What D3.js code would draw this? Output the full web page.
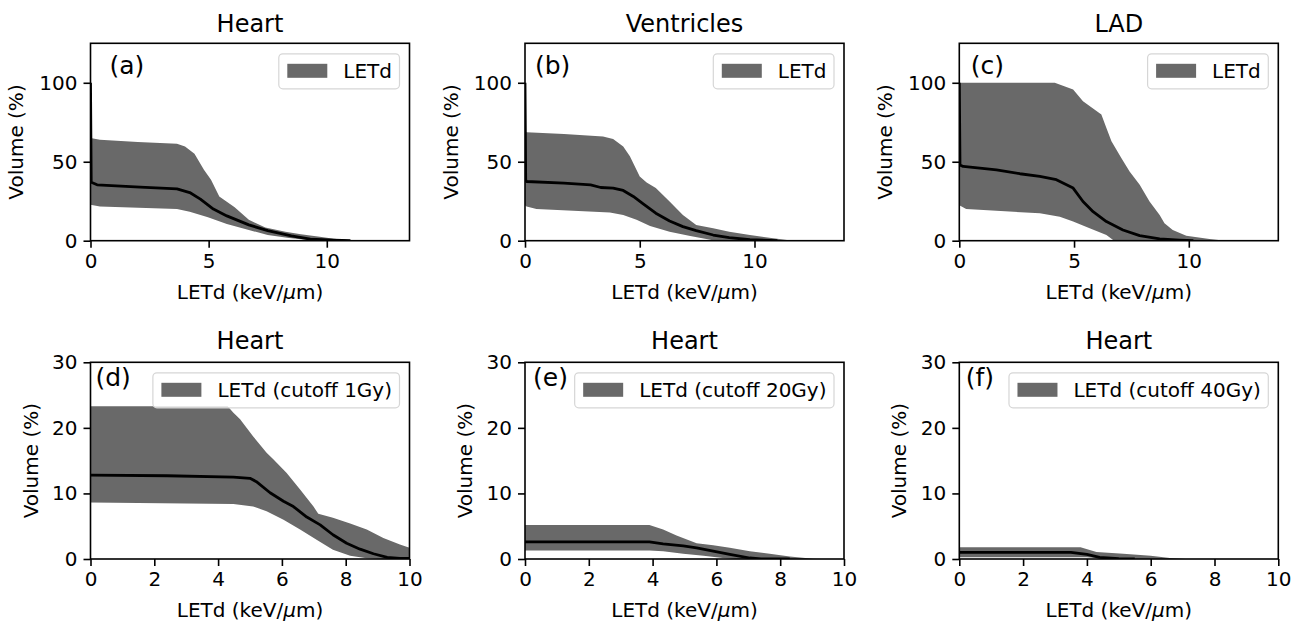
<!DOCTYPE html>
<html>
<head>
<meta charset="utf-8">
<script src="https://cdn.jsdelivr.net/npm/d3@7"></script>
<style>
  body { margin: 0; background: #fff; }
  svg text { font-family: "DejaVu Sans", sans-serif; fill: #000; }
</style>
</head>
<body>
<svg id="fig" width="1301" height="623"></svg>
<script>
// values: [LETd, volume %]
var titles  = ["Heart", "Ventricles", "LAD", "Heart", "Heart", "Heart"];
var letters = ["(a)", "(b)", "(c)", "(d)", "(e)", "(f)"];
var legends = ["LETd", "LETd", "LETd", "LETd (cutoff 1Gy)", "LETd (cutoff 20Gy)", "LETd (cutoff 40Gy)"];

var topXTicks = [0, 5, 10];
var topYTicks = [0, 50, 100];
var botXTicks = [0, 2, 4, 6, 8, 10];
var botYTicks = [0, 10, 20, 30];
var xMax = [13.5, 13.9, 13.9, 10, 10, 10];
var yMax = [125, 125, 125, 30, 30, 30];

var aUpper  = [[0,65],[0.4,64],[2,62.5],[3.66,61.4],[4.0,59.7],[4.4,55],[4.8,45],[5.1,38.6],[5.45,28],[6.1,21.2],[6.7,13.2],[7.4,8.3],[8.25,5.7],[8.9,4.1],[9.7,2.5],[10.3,1.2],[11.3,0]];
var aMedian = [[0,100],[0.03,37],[0.28,35.4],[2.1,33.9],[3.66,32.8],[4.2,30.5],[4.65,26.3],[5.2,20],[5.77,15.7],[6.7,10],[7.5,6.4],[8.5,3],[9.3,1],[10.3,0.3],[11,0]];
var aLower  = [[0,22.7],[0.4,21.6],[3.66,20],[4.2,18.4],[4.97,14.9],[5.77,10.6],[6.7,6.8],[7.5,3.6],[8.4,1.7],[9.2,0.4],[9.8,0]];

var bUpper  = [[0,69],[0.07,68.6],[1.7,67.6],[3.4,66],[3.84,64.4],[4.28,59.7],[4.57,53.4],[5.0,40.7],[5.3,36.8],[5.7,33.3],[6.3,24.8],[6.88,16.3],[7.46,10],[8.2,7.9],[8.9,5.7],[9.8,3.6],[10.65,1.9],[11.5,0.3],[11.9,0]];
var bMedian = [[0,100],[0.03,38.5],[0.07,37.5],[1.7,36.5],[2.86,35.4],[3.3,33.7],[3.84,33.3],[4.28,31.8],[4.72,28],[5.15,23.3],[5.7,17.4],[6.3,12.5],[6.88,8.9],[7.46,6.4],[8.2,3.6],[8.9,1.9],[9.8,0.6],[10.65,0.2],[11,0]];
var bLower  = [[0,22.5],[0.07,21.6],[0.5,20],[3.7,17.8],[4.28,16.3],[4.86,13.2],[5.45,9.3],[6.3,5.7],[7.2,3],[7.9,1.1],[8.3,0]];

var cUpper  = [[0,100],[4.16,100],[4.96,95.7],[5.39,88.3],[6.19,79.9],[6.41,71.4],[6.63,62.9],[7.06,52.3],[7.42,43.8],[7.86,35.4],[8.29,24.8],[8.73,16.3],[8.94,11],[9.3,6.8],[9.89,3.2],[10.9,1.1],[11.6,0]];
var cMedian = [[0,100],[0.03,48],[0.17,47],[1.62,44.9],[2.64,42.4],[3.51,40.7],[4.23,38.6],[4.96,33.3],[5.39,24.8],[5.83,18.4],[6.41,12.1],[7.13,6.8],[7.86,3.2],[8.73,1.1],[9.6,0.4],[10.2,0]];
var cLower  = [[0,22.5],[0.3,20],[3.51,17.4],[4.38,15.2],[4.96,12.1],[5.68,7.9],[6.41,3.6],[6.7,0.4],[6.77,0]];

var dUpper  = [[0,23.3],[4.3,23.3],[4.48,22.3],[4.69,21.3],[5.1,18.7],[5.52,16.2],[5.73,15.2],[6.15,13.1],[6.57,10.6],[6.99,8],[7.14,6.9],[7.6,6.3],[8.14,5.4],[8.66,4.5],[9.18,3.2],[9.7,2.2],[10,1.7]];
var dMedian = [[0,12.8],[2.4,12.7],[4.48,12.5],[5.0,12.3],[5.2,11.8],[5.63,10.1],[6.05,8.8],[6.36,8],[6.78,6.4],[7.2,5.2],[7.6,3.7],[8.03,2.4],[8.45,1.5],[8.87,0.8],[9.3,0.25],[9.7,0.1],[10,0.1]];
var dLower  = [[0,8.6],[4.48,8.4],[5.1,8],[5.52,7.3],[6.05,6],[6.57,4.5],[7.1,2.9],[7.6,1.4],[8.14,0.5],[8.66,0.1],[9.2,0],[10,0]];

var eUpper  = [[0,5.2],[3.9,5.2],[4.33,4.5],[4.75,3.6],[5.38,2.4],[5.9,2.1],[6.42,1.7],[7.05,1.2],[7.67,0.8],[8.3,0.4],[9.03,0.05],[9.3,0]];
var eMedian = [[0,2.6],[3.9,2.6],[4.33,2.3],[4.96,2.0],[5.38,1.7],[5.9,1.2],[6.42,0.7],[7.05,0.15],[7.4,0],[8.3,0]];
var eLower  = [[0,1.3],[3.9,1.3],[4.33,1.2],[4.96,0.8],[5.6,0.5],[6.2,0.15],[6.6,0]];

var fUpper  = [[0,1.8],[3.8,1.8],[4.3,1.07],[5.14,0.8],[6.0,0.5],[6.6,0.15],[7.1,0]];
var fMedian = [[0,1.0],[3.5,1.0],[4.0,0.7],[4.4,0.25],[5.0,0.05],[5.5,0]];
var fLower  = [[0,0.25],[4.0,0.25],[4.5,0.05],[5,0]];

var uppers  = [aUpper, bUpper, cUpper, dUpper, eUpper, fUpper];
var medians = [aMedian, bMedian, cMedian, dMedian, eMedian, fMedian];
var lowers  = [aLower, bLower, cLower, dLower, eLower, fLower];

// layout (pixels)
var colLeft = [90.5, 525, 959.3];
var axW = 319;
var rowTop = [43.3, 362.3];
var rowBot = [240.7, 559];
var letterDx = [19, 10, 11.5, 5, 8, 6.5];
var letterDy = [31, 31, 31, 23.5, 23.5, 23.5];
var bandColor = "#696969";

var svg = d3.select("#fig");

function drawPanel(i) {
  var row = i < 3 ? 0 : 1, col = i % 3;
  var x0 = colLeft[col], x1 = x0 + axW;
  var y0 = rowTop[row], y1 = rowBot[row];
  var x = d3.scaleLinear().domain([0, xMax[i]]).range([x0, x1]);
  var y = d3.scaleLinear().domain([0, yMax[i]]).range([y1, y0]);
  var g = svg.append("g");

  var clipId = "clip" + i;
  svg.append("clipPath").attr("id", clipId)
    .append("rect").attr("x", x0).attr("y", y0).attr("width", x1 - x0).attr("height", y1 - y0);

  var line = d3.line().x(function(d) { return x(d[0]); }).y(function(d) { return y(d[1]); });

  var poly = uppers[i].concat(lowers[i].slice().reverse());
  g.append("path")
    .attr("d", line(poly) + "Z")
    .attr("fill", bandColor)
    .attr("clip-path", "url(#" + clipId + ")");

  g.append("path")
    .attr("d", line(medians[i]))
    .attr("fill", "none")
    .attr("stroke", "#000")
    .attr("stroke-width", 2.8)
    .attr("stroke-linejoin", "round")
    .attr("clip-path", "url(#" + clipId + ")");

  // axes
  var xt = row === 0 ? topXTicks : botXTicks;
  var yt = row === 0 ? topYTicks : botYTicks;
  var xa = g.append("g").attr("transform", "translate(0," + y1 + ")")
    .call(d3.axisBottom(x).tickValues(xt).tickSize(7).tickPadding(6).tickFormat(d3.format("d")));
  var ya = g.append("g").attr("transform", "translate(" + x0 + ",0)")
    .call(d3.axisLeft(y).tickValues(yt).tickSize(7).tickPadding(6).tickFormat(d3.format("d")));
  [xa, ya].forEach(function(a) {
    a.select(".domain").remove();
    a.selectAll(".tick line").attr("stroke", "#000").attr("stroke-width", 1.6);
    a.selectAll(".tick text").attr("font-size", 20).attr("font-family", "DejaVu Sans").attr("fill", "#000");
  });

  g.append("rect")
    .attr("x", x0).attr("y", y0).attr("width", x1 - x0).attr("height", y1 - y0)
    .attr("fill", "none").attr("stroke", "#000").attr("stroke-width", 1.6);

  // title
  g.append("text")
    .attr("x", (x0 + x1) / 2).attr("y", row === 0 ? 32 : 349)
    .attr("text-anchor", "middle").attr("font-size", 24)
    .text(titles[i]);

  // x label
  var xl = g.append("text")
    .attr("x", (x0 + x1) / 2).attr("y", y1 + 58)
    .attr("text-anchor", "middle").attr("font-size", 20);
  xl.append("tspan").text("LETd (keV/");
  xl.append("tspan").attr("font-style", "italic").text("\u03bc");
  xl.append("tspan").text("m)");

  // y label
  var lx = x0 - (row === 0 ? 67.5 : 53);
  g.append("text")
    .attr("transform", "translate(" + lx + "," + ((y0 + y1) / 2) + ") rotate(-90)")
    .attr("text-anchor", "middle").attr("font-size", 20)
    .text("Volume (%)");

  // panel letter
  g.append("text")
    .attr("x", x0 + letterDx[i]).attr("y", y0 + letterDy[i])
    .attr("font-size", 25)
    .text(letters[i]);

  // legend
  var lg = g.append("g");
  var txt = lg.append("text").attr("font-size", 20).text(legends[i]);
  var tw = txt.node().getComputedTextLength();
  var bw = 8 + 40 + 16 + tw + 8, bh = 35;
  var bx = x1 - 10 - bw, by = y0 + 10.5;
  lg.insert("rect", "text")
    .attr("x", bx).attr("y", by).attr("width", bw).attr("height", bh)
    .attr("rx", 4).attr("fill", "#fff").attr("fill-opacity", 0.8)
    .attr("stroke", "#d6d6d6").attr("stroke-width", 1.2);
  lg.insert("rect", "text")
    .attr("x", bx + 8.5).attr("y", by + bh / 2 - 7.5).attr("width", 40).attr("height", 14)
    .attr("fill", bandColor);
  txt.attr("x", bx + 8.5 + 40 + 16).attr("y", by + bh / 2 + 7);
}

for (var i = 0; i < 6; i++) drawPanel(i);
</script>
</body>
</html>
